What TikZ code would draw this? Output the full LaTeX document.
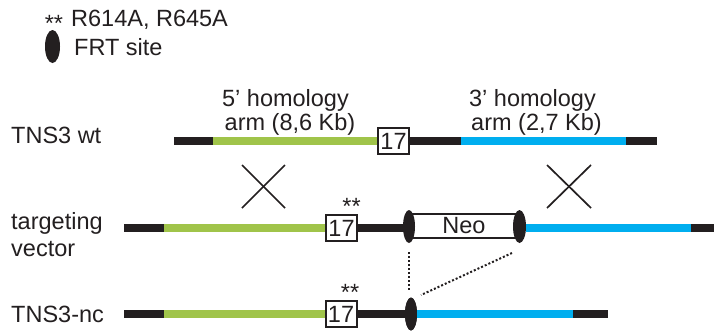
\documentclass[tikz,border=0pt]{standalone}
\usepackage{fontspec}
\setmainfont{Liberation Sans}
\usetikzlibrary{shapes.geometric}
\definecolor{armgreen}{RGB}{160,196,74}
\definecolor{armblue}{RGB}{0,174,239}
\definecolor{ink}{RGB}{35,31,32}
\begin{document}
\begin{tikzpicture}[x=1pt,y=-1pt,
  lbl/.style={inner sep=0pt, font=\fontsize{23.5}{27}\selectfont, text=ink},
  seg/.style={line width=8pt},
  blk/.style={seg, draw=ink},
  grn/.style={seg, draw=armgreen},
  blu/.style={seg, draw=armblue},
  exon/.style={draw=ink, line width=2pt, fill=white, minimum width=31pt, minimum height=26pt, inner sep=0pt, font=\fontsize{23.5}{27}\selectfont, text=ink},
  neobox/.style={draw=ink, line width=2pt, fill=white, minimum width=110pt, minimum height=24pt, inner sep=0pt, font=\fontsize{23.5}{27}\selectfont, text=ink},
  frt/.style={ellipse, fill=ink, draw=none, minimum width=12pt, minimum height=33pt, inner sep=0pt},
  cross/.style={draw=ink, line width=1.7pt},
  recomb/.style={draw=ink, line width=2pt, dotted}
]
\useasboundingbox (0,0) rectangle (714,333);

% legend
\node[lbl, anchor=base] (lstar) at (54,31) {**};
\node[lbl, anchor=base west] (lmut) at (71,26) {R614A, R645A};
\node[frt, minimum width=15pt] (lfrt) at (52.5,46.5) {};
\node[lbl, anchor=base west] (lfrttxt) at (74,55) {FRT site};

% row labels
\node[lbl, anchor=base west] (wt) at (11,143) {TNS3 wt};
\node[lbl, anchor=base west] (tv1) at (11,229) {targeting};
\node[lbl, anchor=base west] (tv2) at (11,256) {vector};
\node[lbl, anchor=base west] (nc) at (11,322) {TNS3-nc};

% homology labels
\node[lbl, anchor=base] (h5a) at (285.5,106) {5’ homology};
\node[lbl, anchor=base] (h5b) at (290,130) {arm (8,6 Kb)};
\node[lbl, anchor=base] (h3a) at (532.5,106) {3’ homology};
\node[lbl, anchor=base] (h3b) at (536.5,130) {arm (2,7 Kb)};

% row 1: TNS3 wt
\coordinate (w0) at (174,141);
\coordinate (w1) at (213,141);
\coordinate (w2) at (461,141);
\coordinate (w3) at (626,141);
\coordinate (w4) at (657,141);
\node[exon] (wx) at (393.5,141) {17};
\draw[blk] (w0) -- (w1);
\draw[grn] (w1) -- (wx.west);
\draw[blk] (wx.east) -- (w2);
\draw[blu] (w2) -- (w3);
\draw[blk] (w3) -- (w4);

% crosses
\coordinate (c1a) at (242,165); \coordinate (c1b) at (285,208);
\coordinate (c1c) at (242,208); \coordinate (c1d) at (285,165);
\draw[cross] (c1a) -- (c1b);
\draw[cross] (c1c) -- (c1d);
\coordinate (c2a) at (547,165); \coordinate (c2b) at (591,208);
\coordinate (c2c) at (547,208); \coordinate (c2d) at (591,165);
\draw[cross] (c2a) -- (c2b);
\draw[cross] (c2c) -- (c2d);

% row 2: targeting vector
\coordinate (v0) at (124,228);
\coordinate (v1) at (164,228);
\coordinate (v3) at (691,228);
\coordinate (v4) at (714,228);
\node[exon] (vx) at (341.5,228) {17};
\node[lbl, anchor=base] (vstar) at (351.5,214.5) {**};
\node[neobox] (neo) at (464,226) {Neo};
\node[frt] (fl) at (409,226.5) {};
\node[frt, minimum width=13pt] (fr) at (519.5,226.5) {};
\draw[blk] (v0) -- (v1);
\draw[grn] (v1) -- (vx.west);
\draw[blk] (vx.east) -- (fl.center |- vx.east);
\draw[blu] (fr.east |- v3) -- (v3);
\draw[blk] (v3) -- (v4);

% row 3: TNS3-nc
\coordinate (n0) at (124,314);
\coordinate (n1) at (164,314);
\coordinate (n3) at (573,314);
\coordinate (n4) at (608,314);
\node[exon] (nx) at (341,314) {17};
\node[lbl, anchor=base] (nstar) at (350,300.5) {**};
\node[frt] (fn) at (411,314) {};
\draw[blk] (n0) -- (n1);
\draw[grn] (n1) -- (nx.west);
\draw[blk] (nx.east) -- (fn.center);
\node[frt] at (fn) {};
\draw[blu] (fn.east) -- (n3);
\draw[blk] (n3) -- (n4);

% recombination dotted lines
\coordinate (d1a) at (409,252); \coordinate (d1b) at (409,290);
\coordinate (d2a) at (512,253); \coordinate (d2b) at (421,295);
\draw[recomb] (d1a) -- (d1b);
\draw[recomb] (d2a) -- (d2b);
\end{tikzpicture}
\end{document}
